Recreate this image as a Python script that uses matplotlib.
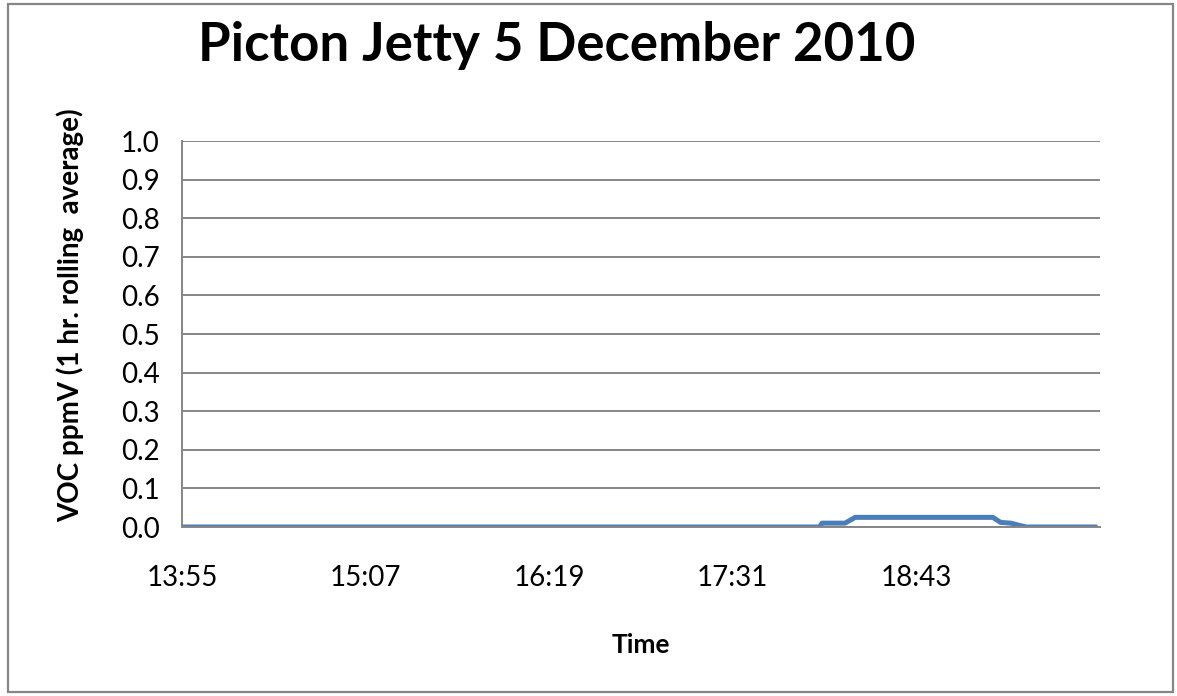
import datetime as dt
import matplotlib.pyplot as plt
import matplotlib.dates as mdates
from matplotlib.patches import Rectangle

# VOC readings, 1 hr rolling average (ppmV)
times = ["13:55", "18:05", "18:06", "18:15", "18:19", "19:13",
         "19:16", "19:20", "19:26", "19:54"]
voc_ppmv = [0.0, 0.0, 0.01, 0.01, 0.025, 0.025, 0.012, 0.01, 0.0, 0.0]

x_start = "13:55"
x_end = "19:55"
tick_step_min = 72

day = dt.date(2010, 12, 5)
def to_dt(s):
    h, m = map(int, s.split(":"))
    return dt.datetime.combine(day, dt.time(h, m))

t = [to_dt(s) for s in times]

plt.rcParams['font.family'] = ['Lato', 'DejaVu Sans']

fig = plt.figure(figsize=(11.77, 6.96), dpi=100)
ax = fig.add_axes([0.1546, 0.2428, 0.9346 - 0.1546, 0.7974 - 0.2428])

ax.plot(t, voc_ppmv, color="#4A7EBB", lw=3.6, solid_capstyle="butt")

ax.set_ylim(0, 1.0)
ax.set_yticks([i / 10 for i in range(11)])
ax.set_yticklabels([f"{i / 10:.1f}" for i in range(11)])

t0, t1 = to_dt(x_start), to_dt(x_end)
ax.set_xlim(t0, t1)
ticks = [t0 + dt.timedelta(minutes=tick_step_min * k) for k in range(5)]
ax.set_xticks(ticks)
ax.xaxis.set_major_formatter(mdates.DateFormatter("%H:%M"))

ax.grid(axis="y", color="#868686", lw=1.4)
ax.set_axisbelow(True)
for side in ("top", "right"):
    ax.spines[side].set_visible(False)
for side in ("left", "bottom"):
    ax.spines[side].set_color("#868686")
    ax.spines[side].set_linewidth(1.4)
ax.tick_params(axis="both", length=0, labelsize=20)
ax.tick_params(axis="x", pad=27)
ax.tick_params(axis="y", pad=16)

ax.set_xlabel("Time", fontsize=19, fontweight="bold", va="center")
ax.xaxis.set_label_coords(0.5, -0.306)
ax.set_ylabel("VOC ppmV (1 hr. rolling  average)", fontsize=20,
              fontweight="bold", va="center")
ax.yaxis.set_label_coords(-0.122, 0.55)
fig.text(0.473, 0.935, "Picton Jetty 5 December 2010", ha="center",
         va="center", fontsize=38, fontweight="bold")

fig.patches.append(Rectangle((8 / 1177, 4 / 696), 1165 / 1177, 688 / 696,
                             transform=fig.transFigure, fill=False,
                             edgecolor="#868686", lw=1.6))

fig.savefig("out.png", dpi=100, facecolor="white")
